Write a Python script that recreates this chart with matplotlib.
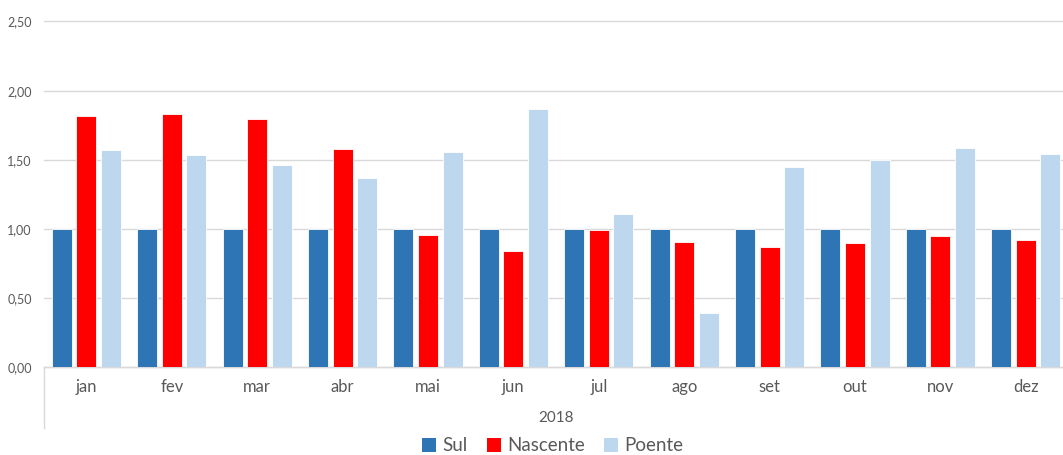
import matplotlib
matplotlib.use("Agg")
import matplotlib.pyplot as plt
import numpy as np
from matplotlib.ticker import FuncFormatter, MultipleLocator
from matplotlib.lines import Line2D
from matplotlib.patches import Patch

months = ["jan", "fev", "mar", "abr", "mai", "jun", "jul", "ago", "set", "out", "nov", "dez"]
year_label = "2018"
sul = [1.00] * 12
nascente = [1.815, 1.831, 1.793, 1.581, 0.954, 0.839, 0.995, 0.908, 0.868, 0.899, 0.947, 0.918]
poente = [1.571, 1.533, 1.463, 1.369, 1.557, 1.870, 1.111, 0.390, 1.448, 1.499, 1.588, 1.540]
series_names = ["Sul", "Nascente", "Poente"]

colors = ["#2E75B6", "#FF0000", "#BDD7EE"]
text_color = "#595959"
grid_color = "#D9D9D9"

plt.rcParams["font.family"] = ["Lato", "DejaVu Sans"]

W, H = 1063, 455
fig = plt.figure(figsize=(W / 100, H / 100), dpi=100)
ax_left, ax_right = 43.7, 1068.5
ax_top, ax_bottom = 21.5, 367.3
ax = fig.add_axes([ax_left / W, (H - ax_bottom) / H,
                   (ax_right - ax_left) / W, (ax_bottom - ax_top) / H])

x = np.arange(len(months))
offset = 0.289
width = 0.234
for k, (vals, c) in enumerate(zip([sul, nascente, poente], colors)):
    ax.bar(x + (k - 1) * offset, vals, width=width, color=c,
           edgecolor="white", linewidth=0.6, zorder=3)

ax.set_xlim(-0.5, len(months) - 0.5)
ax.set_ylim(0, 2.5)
ax.yaxis.set_major_locator(MultipleLocator(0.5))
ax.yaxis.set_major_formatter(FuncFormatter(lambda v, p: f"{v:.2f}".replace(".", ",")))
ax.grid(axis="y", color=grid_color, linewidth=1.0, zorder=0)
ax.set_axisbelow(True)
for gl in ax.get_ygridlines():
    gl.set_clip_on(False)

for s in ["top", "right", "left"]:
    ax.spines[s].set_visible(False)
ax.spines["bottom"].set_color(grid_color)
ax.spines["bottom"].set_linewidth(1.0)

ax.set_xticks(x)
ax.set_xticklabels(months)
ax.tick_params(axis="x", length=0, pad=8.5, labelsize=12, labelcolor=text_color)
ax.tick_params(axis="y", length=0, pad=8.5, labelsize=9, labelcolor=text_color)

# outer category level: year label and left boundary line
ax.add_line(Line2D([0, 0], [0, -0.1755], transform=ax.transAxes,
                   color=grid_color, linewidth=1.0, clip_on=False))
ax.text(0.5, -0.147, year_label, transform=ax.transAxes, ha="center", va="center",
        fontsize=11, color=text_color)

handles = [Patch(facecolor=c, edgecolor="none") for c in colors]
fig.legend(handles, series_names, loc="center", bbox_to_anchor=(0.52, 0.02),
           ncol=3, frameon=False, fontsize=13.5, labelcolor=text_color,
           handlelength=0.75, handleheight=0.75, handletextpad=0.35,
           columnspacing=1.0, borderpad=0)

fig.savefig("out.png", dpi=100)
